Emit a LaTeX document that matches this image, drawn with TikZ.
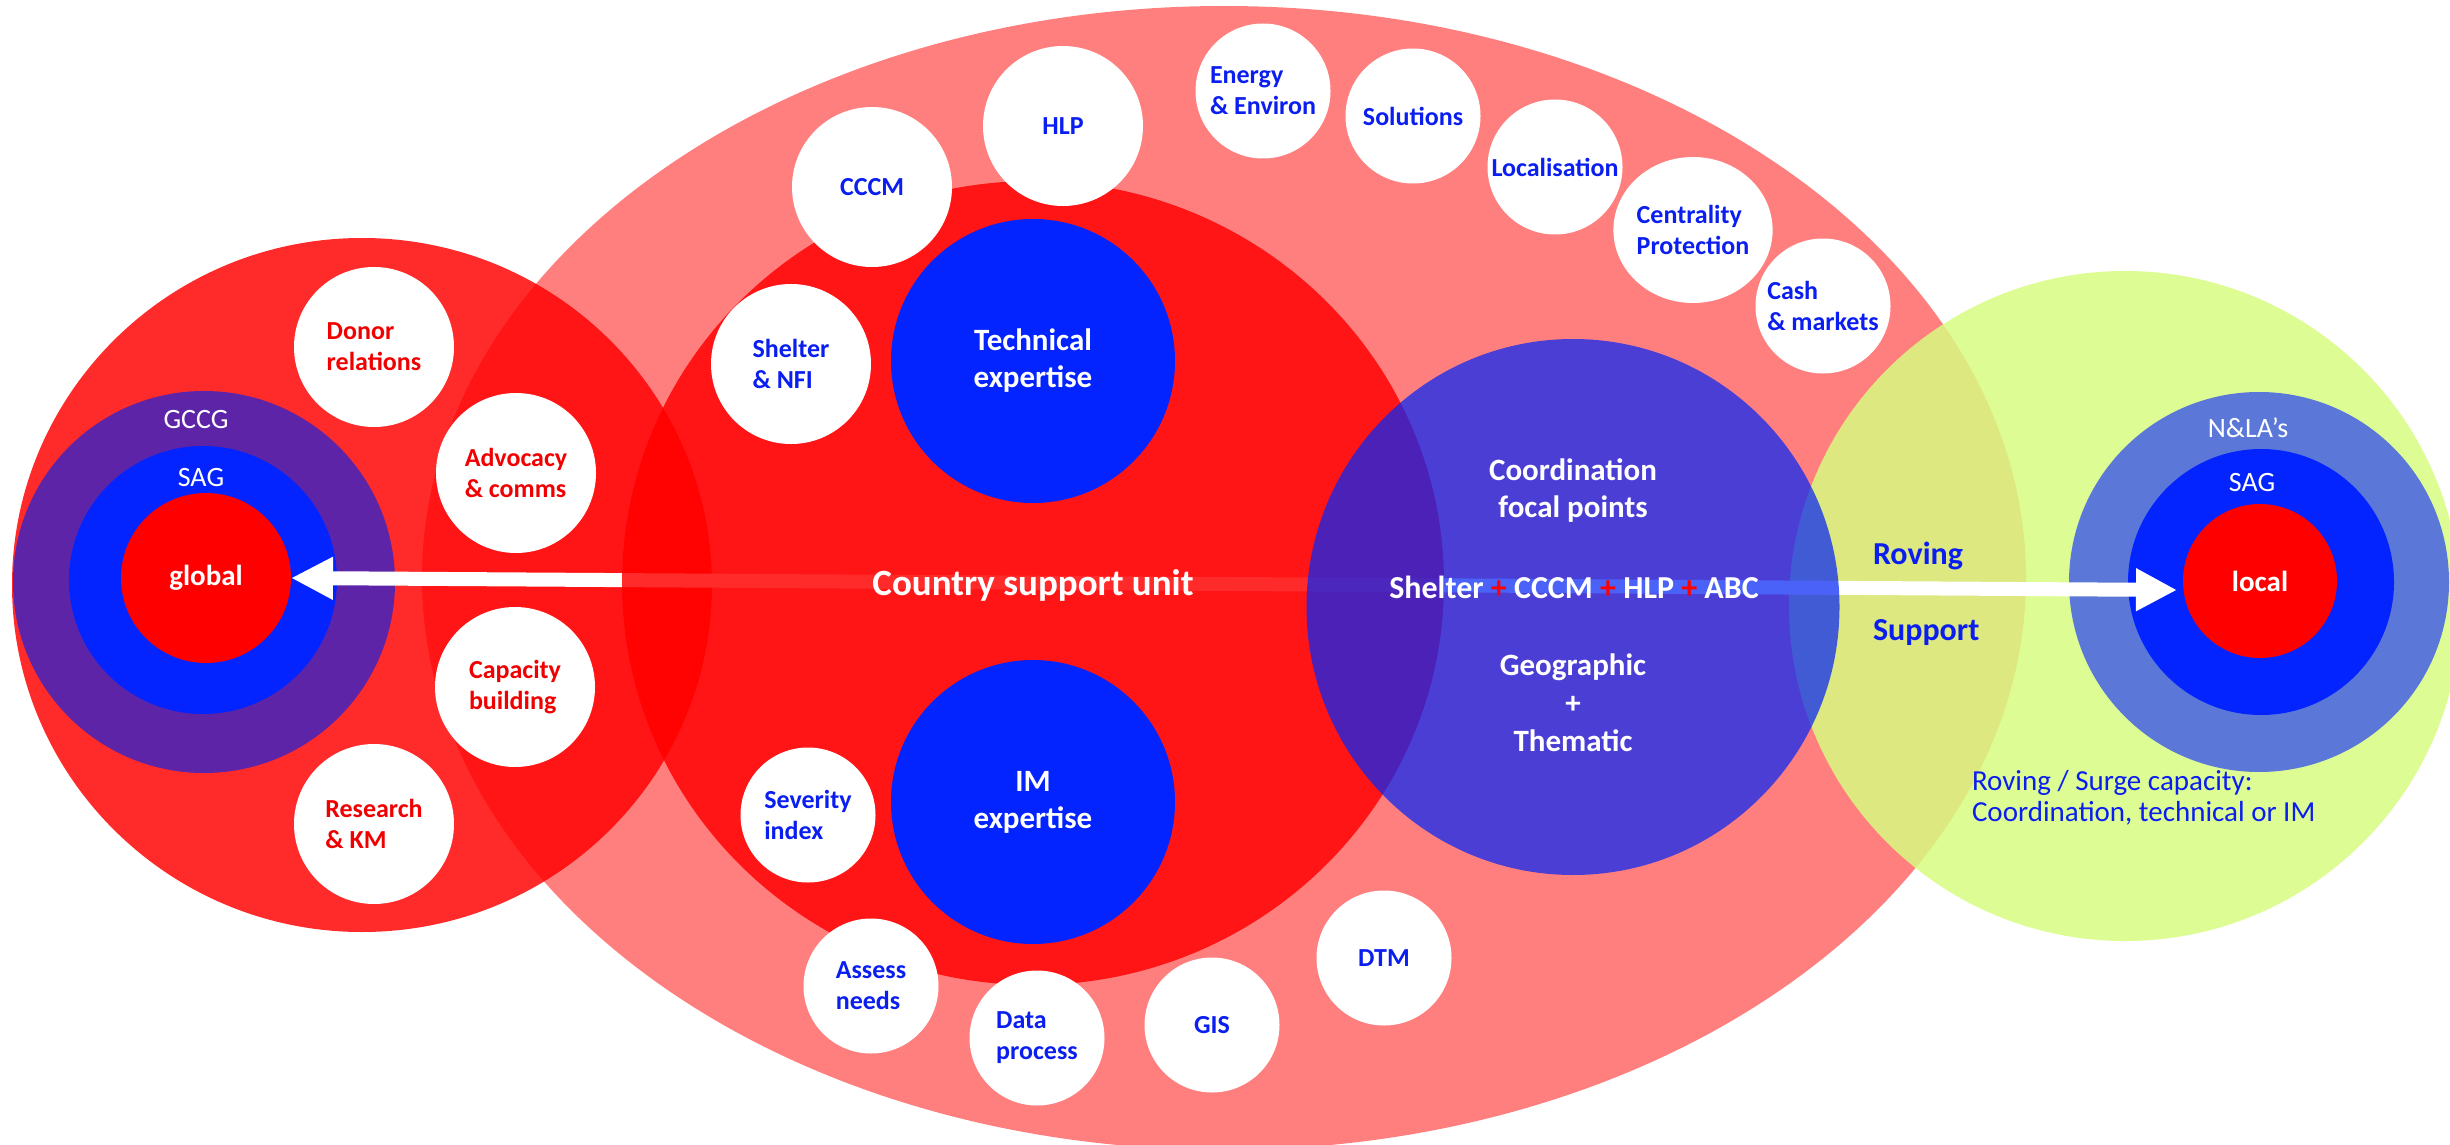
\documentclass[tikz,border=0pt]{standalone}
\usepackage{fontspec}
\setmainfont{Carlito}
\usetikzlibrary{arrows.meta,shapes.geometric}
\definecolor{sblue}{RGB}{3,36,255}
\definecolor{gccgc}{RGB}{94,36,168}
\definecolor{nlac}{RGB}{91,120,216}
\definecolor{limec}{RGB}{215,252,129}
\definecolor{txtred}{RGB}{240,0,0}
\definecolor{txtblue}{RGB}{10,30,240}
\definecolor{cblue}{RGB}{6,38,247}
\definecolor{pured}{RGB}{255,0,0}
\begin{document}
\begin{tikzpicture}[x=1pt,y=-1pt,
  every node/.style={inner sep=0pt,outer sep=0pt},
  blob/.style={ellipse,draw=none},
  disc/.style={circle,draw=none,minimum size=#1},
  wbig/.style={circle,fill=white,minimum size=160pt,align=left,font=\bfseries\fontsize{26}{31}\selectfont},
  wsmall/.style={circle,fill=white,minimum size=135pt,align=left,font=\bfseries\fontsize{26}{31}\selectfont},
  redtxt/.style={text=txtred},
  bluetxt/.style={text=txtblue},
  ringlabel/.style={text=white,font=\fontsize{28}{32}\selectfont},
  coretxt/.style={text=white,font=\bfseries\fontsize{29}{34}\selectfont},
  expert/.style={text=white,align=center,font=\bfseries\fontsize{31}{37}\selectfont},
  bigarrow/.style={white,line width=14pt,{Triangle[length=42pt,width=40pt]}-{Triangle[length=41pt,width=40pt]}}
]
\useasboundingbox (0,0) rectangle (2450,1145);

% large translucent shapes
\node[blob,fill=pured,fill opacity=0.835,minimum width=700pt,minimum height=694pt] (leftE) at (362,585) {};
\node[blob,fill=pured,fill opacity=0.5,minimum width=1604pt,minimum height=1144pt] (pinkE) at (1224,578) {};
\node[blob,fill=limec,fill opacity=0.85,minimum width=672pt,minimum height=670pt] (limeE) at (2125,606) {};

% left rings
\node[disc=382pt,fill=gccgc] (gccg) at (204,582) {};
\node[disc=268pt,fill=sblue] (sagL) at (203,580) {};
\node[disc=170pt,fill=pured,coretxt] (gl) at (206,578) {global};
\node[ringlabel] (gccgT) at (196,420) {GCCG};
\node[ringlabel] (sagLT) at (201,478) {SAG};

% right rings
\node[disc=380pt,fill=nlac] (nla) at (2259,582) {};
\node[disc=266pt,fill=sblue] (sagR) at (2261,582) {};
\node[disc=154pt,fill=pured,coretxt] (lo) at (2260,581) {local};
\node[ringlabel] (nlaT) at (2248,428) {N\&LA’s};
\node[ringlabel] (sagRT) at (2252,483) {SAG};

% arrow
\coordinate (rtip) at (2177,590);
\draw[bigarrow] (gl.east) -- (rtip);

% country support unit and coordination circle
\node[blob,fill=pured,fill opacity=0.835,minimum width=822pt,minimum height=804pt] (csu) at (1033,583) {};
\node[blob,fill=cblue,fill opacity=0.72,minimum width=533pt,minimum height=536pt] (coord) at (1573,607) {};

% expertise circles
\node[disc=284pt,fill=sblue,expert] (tech) at (1033,361) {Technical\\expertise};
\node[disc=284pt,fill=sblue,expert] (im) at (1033,802) {IM\\expertise};

% left white circles
\node[wbig,redtxt] (donor) at (374,347) {Donor\\relations};
\node[wbig,redtxt] (advo) at (516,473) {Advocacy\\\& comms};
\node[wbig,redtxt] (capa) at (515,687) {Capacity\\building};
\node[wbig,redtxt] (rese) at (374,824) {Research\\\& KM};

% top white circles
\node[wbig,bluetxt] (cccm) at (872,187) {CCCM};
\node[wbig,bluetxt] (hlp) at (1063,126) {HLP};
\node[wbig,bluetxt] (shel) at (791,364) {Shelter\\\& NFI};
\node[wsmall,bluetxt] (ener) at (1263,91) {Energy\\\& Environ};
\node[wsmall,bluetxt] (solu) at (1413,116) {Solutions};
\node[wsmall,bluetxt] (loca) at (1555,167) {Localisation};
\node[wsmall,bluetxt,ellipse,minimum width=136pt,minimum height=146pt] (cent) at (1693,230) {Centrality\\Protection};
\node[wsmall,bluetxt] (cash) at (1823,306) {Cash\\\& markets};

% bottom white circles
\node[wsmall,bluetxt] (seve) at (808,815) {Severity\\index};
\node[wsmall,bluetxt] (asse) at (871,986) {Assess\\needs};
\node[wsmall,bluetxt] (data) at (1037,1038) {Data\\process};
\node[wsmall,bluetxt] (gis) at (1212,1025) {GIS};
\node[wsmall,bluetxt] (dtm) at (1384,958) {DTM};

% central texts
\node[text=white,font=\bfseries\fontsize{37}{44}\selectfont] (csuT) at (1033,585) {Country support unit};
\node[expert] (coordT) at (1573,491) {Coordination\\focal points};
\node[text=white,font=\bfseries\fontsize{32}{38}\selectfont] (fpT) at (1574,587) {Shelter {\color{pured}+} CCCM {\color{pured}+} HLP {\color{pured}+} ABC};
\node[text=white,align=center,font=\bfseries\fontsize{31}{38}\selectfont] (geoT) at (1573,703) {Geographic\\+\\Thematic};

% roving texts
\node[anchor=base west,text=txtblue,font=\bfseries\fontsize{32}{38}\selectfont] (rovT) at (1873,564) {Roving};
\node[anchor=base west,text=txtblue,font=\bfseries\fontsize{32}{38}\selectfont] (supT) at (1873,640) {Support};
\node[anchor=base west,align=left,text=txtblue,font=\fontsize{29}{31}\selectfont] (surgeT) at (1972,821) {Roving / Surge capacity:\\Coordination, technical or IM};
\end{tikzpicture}
\end{document}
